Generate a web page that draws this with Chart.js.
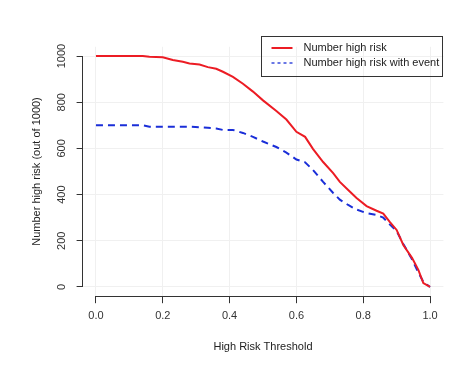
<!DOCTYPE html>
<html>
<head>
<meta charset="utf-8">
<script src="https://cdn.jsdelivr.net/npm/chart.js@4.4.1/dist/chart.umd.min.js"></script>
<style>
html,body{margin:0;padding:0;background:#fff;}
#wrap{width:474px;height:372px;position:relative;}
</style>
</head>
<body>
<div id="wrap"><canvas id="c" width="474" height="372"></canvas></div>
<script>
const thresholds = [0, 0.05, 0.10, 0.14, 0.16, 0.20, 0.23, 0.26, 0.28, 0.31, 0.335, 0.36, 0.38, 0.41, 0.44, 0.47, 0.50, 0.54, 0.57, 0.60, 0.626, 0.65, 0.68, 0.71, 0.73, 0.755, 0.78, 0.81, 0.84, 0.86, 0.88, 0.90, 0.92, 0.946, 0.965, 0.98, 1.0];
const highRisk = [1000, 1000, 1000, 1000, 997, 995, 983, 975, 968, 963, 952, 945, 932, 910, 880, 846, 808, 762, 725, 672, 650, 597, 541, 493, 455, 420, 385, 350, 330, 318, 281, 247, 182, 126, 74, 17, 0];
const highRiskEvent = [700, 700, 700, 700, 694, 694, 694, 694, 694, 692, 689, 686, 680, 680, 667, 650, 630, 606, 582, 552, 540, 506, 455, 407, 378, 355, 335, 320, 312, 300, 270, 242, 186, 120, 62, 22, 0];
const seriesLabels = ["Number high risk", "Number high risk with event"];
const xTicks = [0, 0.2, 0.4, 0.6, 0.8, 1.0];
const yTicks = [0, 200, 400, 600, 800, 1000];
const xTitle = "High Risk Threshold";
const yTitle = "Number high risk (out of 1000)";

const FONT = "'Liberation Sans', Arial, sans-serif";
const RED = '#ec1c24';
const BLUE = '#1a2ed8';

const axisLines = {
  id: 'axisLines',
  afterDraw(chart) {
    const ctx = chart.ctx, xs = chart.scales.x, ys = chart.scales.y, ca = chart.chartArea;
    ctx.save();
    ctx.strokeStyle = '#333';
    ctx.lineWidth = 1;
    ctx.beginPath();
    const yb = Math.round(ca.bottom) + 0.5;
    ctx.moveTo(xs.getPixelForValue(xTicks[0]), yb);
    ctx.lineTo(xs.getPixelForValue(xTicks[xTicks.length - 1]), yb);
    const xl = Math.round(ca.left) - 0.5;
    ctx.moveTo(xl, ys.getPixelForValue(yTicks[0]));
    ctx.lineTo(xl, ys.getPixelForValue(yTicks[yTicks.length - 1]));
    ctx.stroke();

    // legend
    const right = Math.round(ca.right) - 0.5, top = 36.5, w = 181, h = 40;
    const left = right - w;
    ctx.strokeStyle = '#333';
    ctx.strokeRect(left, top, w, h);
    const ds = chart.data.datasets;
    ds.forEach((d, i) => {
      const ly = top + 11.5 + i * 15;
      ctx.beginPath();
      ctx.strokeStyle = d.borderColor;
      ctx.lineWidth = i === 0 ? 2 : 1.3;
      ctx.setLineDash(i === 0 ? [] : [3, 3]);
      ctx.moveTo(left + 10, ly);
      ctx.lineTo(left + 31, ly);
      ctx.stroke();
      ctx.setLineDash([]);
      ctx.fillStyle = '#222';
      ctx.font = '11px ' + FONT;
      ctx.textBaseline = 'middle';
      ctx.textAlign = 'left';
      ctx.fillText(d.label, left + 42, ly);
    });
    ctx.restore();
  }
};

new Chart(document.getElementById('c'), {
  type: 'line',
  data: {
    datasets: [
      {
        label: seriesLabels[0],
        data: thresholds.map((t, i) => ({x: t, y: highRisk[i]})),
        borderColor: RED, borderWidth: 2, pointRadius: 0, tension: 0, fill: false
      },
      {
        label: seriesLabels[1],
        data: thresholds.map((t, i) => ({x: t, y: highRiskEvent[i]})),
        borderColor: BLUE, borderWidth: 2, borderDash: [7, 5], pointRadius: 0, tension: 0, fill: false
      }
    ]
  },
  options: {
    responsive: false,
    animation: false,
    layout: {padding: {left: 0, right: 30.6, top: 46.8, bottom: 0}},
    plugins: {legend: {display: false}, tooltip: {enabled: false}},
    scales: {
      x: {
        type: 'linear', min: -0.04, max: 1.04,
        afterBuildTicks: s => { s.ticks = xTicks.map(v => ({value: v})); },
        afterFit: s => { s.height = 75.8; },
        border: {display: false},
        grid: {color: '#f0f0f0', tickColor: '#333', tickLength: 7, drawTicks: true},
        ticks: {
          autoSkip: false, maxRotation: 0, minRotation: 0, padding: 6,
          color: '#333', font: {family: FONT, size: 11},
          callback: v => Number(v).toFixed(1)
        },
        title: {display: true, text: xTitle, color: '#222', font: {family: FONT, size: 11}, padding: {top: 0, bottom: 18}}
      },
      y: {
        type: 'linear', min: -40, max: 1040,
        afterBuildTicks: s => { s.ticks = yTicks.map(v => ({value: v})); },
        afterFit: s => { s.width = 82.6; },
        border: {display: false},
        grid: {color: '#f0f0f0', tickColor: '#333', tickLength: 6, drawTicks: true},
        ticks: {
          autoSkip: false, minRotation: 90, maxRotation: 90, padding: 2, crossAlign: 'center',
          color: '#333', font: {family: FONT, size: 11},
          callback: v => String(v)
        },
        title: {display: true, text: yTitle, color: '#222', font: {family: FONT, size: 11}, padding: {top: 30.4, bottom: 0}}
      }
    }
  },
  plugins: [axisLines]
});
</script>
</body>
</html>
